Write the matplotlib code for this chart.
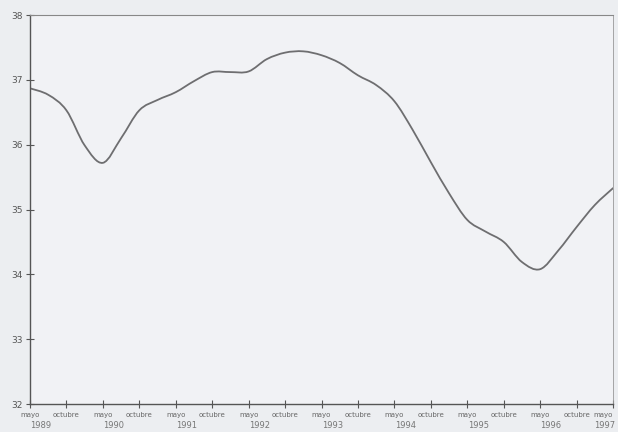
import matplotlib
matplotlib.use("Agg")
import matplotlib.pyplot as plt
import matplotlib.transforms as mtransforms
from matplotlib.path import Path
from matplotlib.patches import PathPatch

# half-year positions (0 = mayo 1989, 1 = octubre 1989, 2 = mayo 1990, ...)
x_pos = [i * 0.5 for i in range(33)]
values = [36.87, 36.77, 36.53, 35.99, 35.72, 36.10, 36.53, 36.69, 36.81, 36.98,
          37.12, 37.12, 37.13, 37.32, 37.42, 37.44, 37.38, 37.26, 37.07, 36.92,
          36.67, 36.23, 35.73, 35.25, 34.84, 34.66, 34.50, 34.19, 34.08, 34.37,
          34.73, 35.07, 35.33]

tick_labels = ["mayo", "octubre"] * 8 + ["mayo"]
years = ["1989", "1990", "1991", "1992", "1993", "1994", "1995", "1996", "1997"]
yticks = [32, 33, 34, 35, 36, 37, 38]

fig = plt.figure(figsize=(6.18, 4.32), dpi=100, facecolor="#eceef1")
ax = fig.add_axes([0.0485, 0.0648, 0.9435, 0.9004])
ax.set_facecolor("#f1f2f5")

# smooth curve through the data points (Catmull-Rom as cubic Bezier path)
n = len(x_pos)
verts = [(x_pos[0], values[0])]
codes = [Path.MOVETO]
for i in range(n - 1):
    p0 = (x_pos[max(i - 1, 0)], values[max(i - 1, 0)])
    p1 = (x_pos[i], values[i])
    p2 = (x_pos[i + 1], values[i + 1])
    p3 = (x_pos[min(i + 2, n - 1)], values[min(i + 2, n - 1)])
    c1 = (p1[0] + (p2[0] - p0[0]) / 6, p1[1] + (p2[1] - p0[1]) / 6)
    c2 = (p2[0] - (p3[0] - p1[0]) / 6, p2[1] - (p3[1] - p1[1]) / 6)
    verts += [c1, c2, p2]
    codes += [Path.CURVE4] * 3
ax.add_patch(PathPatch(Path(verts, codes), facecolor="none", edgecolor="#6e6e70",
                       lw=1.3, capstyle="round", joinstyle="round"))

ax.set_xlim(0, 16)
ax.set_ylim(32, 38)
ax.set_yticks(yticks)
ax.set_yticklabels([str(v) for v in yticks], fontsize=6.5, color="#555")
ax.set_xticks(range(17))
ax.set_xticklabels(tick_labels, fontsize=5, color="#666")
ax.get_xticklabels()[-1].set_horizontalalignment("right")
ax.tick_params(axis="both", direction="inout", length=6, width=0.8, color="#555", pad=2)
ax.tick_params(axis="x", pad=3)

for s in ["left", "bottom"]:
    ax.spines[s].set_color("#555")
    ax.spines[s].set_linewidth(1.0)
ax.spines["top"].set_linestyle((0, (1, 1)))
ax.spines["top"].set_color("#888")
ax.spines["top"].set_linewidth(0.8)
ax.spines["right"].set_color("#999")
ax.spines["right"].set_linewidth(0.6)

trans = mtransforms.blended_transform_factory(ax.transData, fig.transFigure)
for i, yr in enumerate(years):
    last = i == len(years) - 1
    ax.text(2 * i + (0.05 if last else 0.3), 0.005, yr, transform=trans,
            ha="right" if last else "center", va="bottom",
            fontsize=6, color="#777", clip_on=False)

fig.savefig("out.png", dpi=100, facecolor=fig.get_facecolor())
